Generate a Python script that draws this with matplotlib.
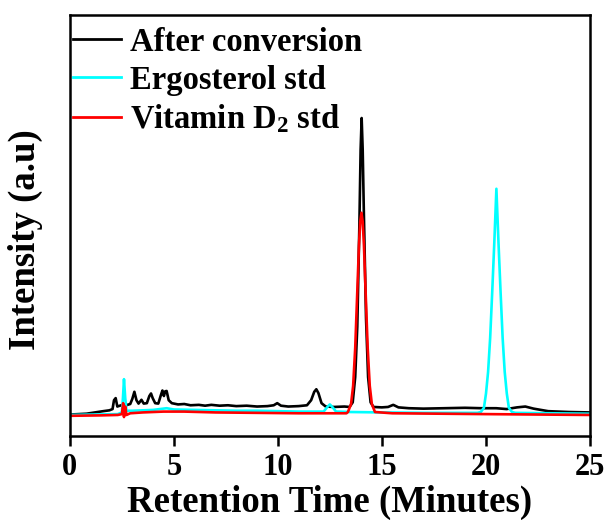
import matplotlib
matplotlib.use('Agg')
import matplotlib.pyplot as plt

plt.rcParams['font.family'] = 'Liberation Serif'
plt.rcParams['font.weight'] = 'bold'
plt.rcParams['mathtext.fontset'] = 'custom'
plt.rcParams['mathtext.rm'] = 'Liberation Serif:bold'
plt.rcParams['mathtext.it'] = 'Liberation Serif:bold'
plt.rcParams['mathtext.bf'] = 'Liberation Serif:bold'

# After conversion (black)
black_t = [0, 0.8, 1.2, 1.6, 1.9, 2.05, 2.12, 2.2, 2.28, 2.4, 2.55, 2.7, 2.9, 3.0, 3.1,
           3.2, 3.3, 3.44, 3.55, 3.7, 3.82, 3.9, 3.98, 4.1, 4.25, 4.38, 4.45, 4.52, 4.58,
           4.65, 4.75, 4.9, 5.2, 5.5, 5.8, 6.2, 6.5, 6.8, 7.2, 7.6, 8.0, 8.5, 9.0, 9.5,
           9.8, 9.97, 10.15, 10.5, 11.0, 11.4, 11.6, 11.75, 11.85, 11.95, 12.1, 12.3,
           12.7, 13.2, 13.45, 13.6, 13.72, 13.82, 13.92, 13.98, 14.03, 14.08, 14.14,
           14.24, 14.34, 14.46, 14.6, 15.0, 15.3, 15.55, 15.8, 16.3, 17, 18, 19, 19.8,
           20.5, 21.0, 21.5, 21.9, 22.3, 23, 24, 25]
black_y = [5.1, 5.3, 5.6, 5.9, 6.1, 6.4, 8.5, 9.0, 7.0, 7.2, 7.4, 7.3, 7.6, 8.8, 10.5,
           8.5, 7.7, 8.6, 7.7, 7.8, 9.5, 10.1, 9.0, 7.8, 7.7, 9.8, 10.8, 9.5, 10.6,
           10.7, 8.5, 7.8, 7.5, 7.6, 7.3, 7.4, 7.2, 7.4, 7.2, 7.3, 7.1, 7.2, 7.0, 7.1,
           7.3, 7.8, 7.2, 7.0, 7.1, 7.3, 8.5, 10.5, 11.1, 10.2, 7.8, 7.0,
           6.9, 7.0, 6.9, 8.0, 14, 26, 50, 68, 75.5, 68, 52,
           28, 14, 8.0, 6.9, 6.8, 6.9, 7.4, 6.8, 6.6, 6.5, 6.6, 6.7, 6.6,
           6.6, 6.4, 6.8, 7.0, 6.5, 5.9, 5.7, 5.6]

# Ergosterol std (cyan)
cyan_t = [0, 2.3, 2.5, 2.55, 2.6, 2.66, 2.72, 3.0, 4.0, 4.65, 5.0, 6.0, 7.0, 8.0, 9.0,
          10.0, 11.0, 12.2, 12.4, 12.5, 12.6, 12.8, 13.5, 15.0, 17.0, 19.6, 19.76,
          19.91, 20.01, 20.11, 20.21, 20.31, 20.41, 20.51, 20.61, 20.71, 20.81, 20.91,
          21.01, 21.11, 21.26, 21.42, 23.0, 25.0]
cyan_y = [5.0, 5.2, 5.6, 9.0, 13.5, 9.0, 6.0, 6.0, 6.2, 6.6, 6.3, 6.2, 6.1, 6.0, 6.0,
          5.9, 5.8, 5.8, 7.0, 7.5, 7.0, 5.8, 5.7, 5.6, 5.5, 5.5, 5.7,
          6.7, 10.1, 15.2, 23.3, 34.3, 46.0, 58.7, 46.0, 34.3, 23.3, 15.2,
          10.1, 6.7, 5.7, 5.5, 5.4, 5.3]

# Vitamin D2 std (red)
red_t = [0, 1.5, 2.3, 2.5, 2.56, 2.6, 2.66, 2.72, 2.9, 3.5, 4.5, 5.5, 7.0, 9.0, 11.0,
         13.3, 13.37, 13.52, 13.62, 13.72, 13.82, 13.90, 13.96, 14.02, 14.08, 14.14,
         14.22, 14.32, 14.42, 14.52, 14.67, 15.5, 20.0, 25.0]
red_y = [4.8, 4.9, 5.0, 5.2, 7.8, 4.5, 7.0, 5.0, 5.4, 5.6, 5.8, 5.8, 5.6, 5.5, 5.4,
         5.4, 5.7, 7.6, 11.9, 20.9, 34.3, 45.2, 50.9, 53.0, 50.9, 45.2,
         34.3, 20.9, 11.9, 7.6, 5.7, 5.4, 5.2, 5.0]

fig = plt.figure(figsize=(6.08, 5.2), dpi=100)
ax = fig.add_axes([0.115, 0.1615, 0.855, 0.81])

ax.plot(black_t, black_y, color='black', lw=1.9, label='After conversion')
ax.plot(cyan_t, cyan_y, color='cyan', lw=1.9, label='Ergosterol std')
ax.plot(red_t, red_y, color='red', lw=1.9, label='Vitamin D$_2$ std')

ax.set_xlim(0, 25)
ax.set_ylim(0, 100)
ax.set_xticks([0, 5, 10, 15, 20, 25])
ax.set_yticks([])
ax.tick_params(axis='x', direction='out', length=7, width=1.8, labelsize=22, pad=5)
for s in ax.spines.values():
    s.set_linewidth(1.8)

ax.set_xlabel('Retention Time (Minutes)', fontsize=26.5, fontweight='bold', labelpad=2)
ax.set_ylabel('Intensity (a.u)', fontsize=26.5, fontweight='bold')
ax.yaxis.set_label_coords(-0.052, 0.466)

leg = ax.legend(loc='upper left', bbox_to_anchor=(0.0, 0.98), frameon=False,
                fontsize=23.5, handlelength=1.45, handletextpad=0.3,
                labelspacing=0.22, borderaxespad=0, borderpad=0.1)
for line in leg.get_lines():
    line.set_linewidth(2)

fig.savefig('out.png', dpi=100)
